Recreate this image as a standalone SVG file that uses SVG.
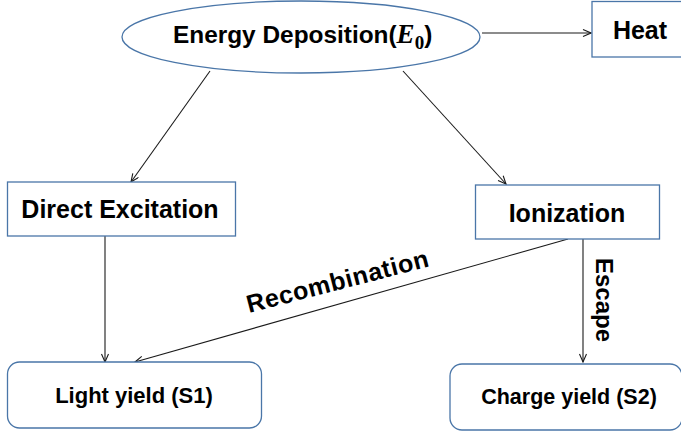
<svg xmlns="http://www.w3.org/2000/svg" width="681" height="432" viewBox="0 0 681 432">
<style>
.box{fill:#fff;stroke:#4A76A8;stroke-width:1.3}
.t{font-family:"Liberation Sans",Arial,sans-serif;font-weight:bold;fill:#000}
.c{stroke:#1a1a1a;stroke-width:1.1;fill:none;marker-end:url(#ah)}
</style>
<defs>
<marker id="ah" markerUnits="userSpaceOnUse" markerWidth="10" markerHeight="10" refX="9" refY="4" orient="auto">
<path d="M1,0.5 L9,4 L1,7.5" fill="none" stroke="#1a1a1a" stroke-width="1.1"/>
</marker>
</defs>
<rect width="681" height="432" fill="#fff"/>
<g id="connectors">
<line class="c" x1="210" y1="71" x2="131" y2="182"/>
<line class="c" x1="403" y1="71" x2="506" y2="184"/>
<line class="c" x1="482" y1="33" x2="591" y2="33"/>
<line class="c" x1="105" y1="236" x2="105" y2="362"/>
<line class="c" x1="568" y1="239" x2="135" y2="362"/>
<line class="c" x1="583" y1="239" x2="583" y2="362"/>
<text class="t" font-size="25" transform="translate(249,313) rotate(-14.5)" textLength="187" lengthAdjust="spacing">Recombination</text>
<text class="t" font-size="24" transform="translate(596,258) rotate(90)" textLength="84" lengthAdjust="spacing">Escape</text>
</g>
<g id="energy">
<ellipse class="box" cx="301" cy="37" rx="179" ry="36"/>
<text class="t" x="173" y="43" font-size="24.4">Energy Deposition(<tspan font-family="Liberation Serif,serif" font-style="italic" font-size="27">E</tspan><tspan font-family="Liberation Serif,serif" font-size="19" dy="6">0</tspan><tspan dy="-6">)</tspan></text>
</g>
<g id="heat">
<rect class="box" x="592" y="1.5" width="100" height="55.5"/>
<text class="t" x="640" y="39" font-size="25" text-anchor="middle">Heat</text>
</g>
<g id="direct">
<rect class="box" x="7.5" y="182" width="228" height="54"/>
<text class="t" x="120" y="218" font-size="25" text-anchor="middle">Direct Excitation</text>
</g>
<g id="ionization">
<rect class="box" x="475.5" y="185" width="184" height="54"/>
<text class="t" x="567" y="222" font-size="25" text-anchor="middle">Ionization</text>
</g>
<g id="light">
<rect class="box" x="7.5" y="362" width="254" height="66" rx="12"/>
<text class="t" x="134" y="403" font-size="22" text-anchor="middle">Light yield (S1)</text>
</g>
<g id="charge">
<rect class="box" x="450" y="364" width="232" height="66" rx="12"/>
<text class="t" x="569" y="404" font-size="21.5" text-anchor="middle">Charge yield (S2)</text>
</g>
</svg>
